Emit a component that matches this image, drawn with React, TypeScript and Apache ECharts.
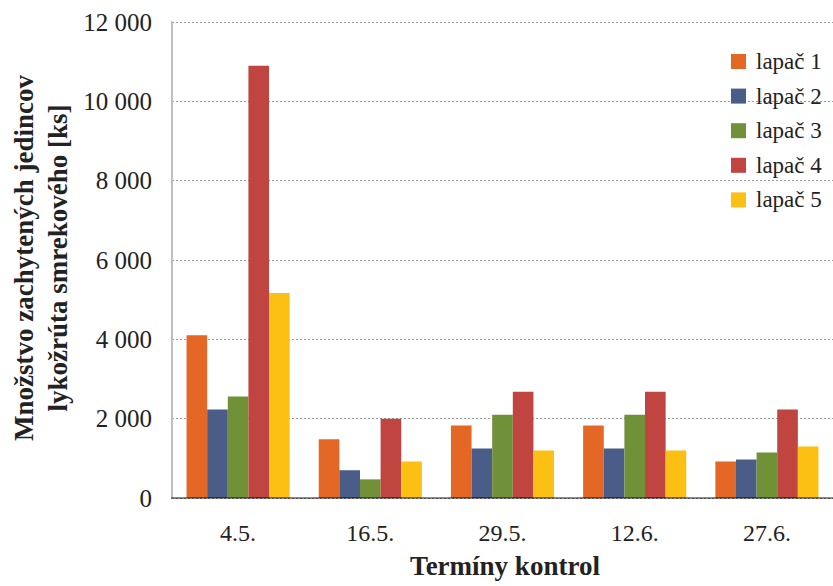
import React, { useEffect, useRef } from "react";
import * as echarts from "echarts";

const categories = ["4.5.", "16.5.", "29.5.", "12.6.", "27.6."];
const seriesNames = ["lapač 1", "lapač 2", "lapač 3", "lapač 4", "lapač 5"];
const lapac1 = [4100, 1480, 1830, 1830, 920];
const lapac2 = [2230, 700, 1250, 1250, 970];
const lapac3 = [2560, 470, 2100, 2100, 1150];
const lapac4 = [10900, 2000, 2680, 2680, 2230];
const lapac5 = [5170, 920, 1200, 1200, 1300];
const seriesValues = [lapac1, lapac2, lapac3, lapac4, lapac5];
const colors = ["#E46725", "#4A5D88", "#719139", "#C0443F", "#FCBF14"];
const yTitle = ["Množstvo zachytených jedincov", "lykožrúta smrekového [ks]"];
const xTitle = "Termíny kontrol";

const FONT = "'Liberation Serif', 'Times New Roman', serif";

const fmt = (v: number) => String(v).replace(/\B(?=(\d{3})+(?!\d))/g, " ");

export default function App() {
  const ref = useRef<HTMLDivElement>(null);
  useEffect(() => {
    if (!ref.current) return;
    const chart = echarts.init(ref.current, null, { renderer: "svg" });
    chart.setOption({
      animation: false,
      backgroundColor: "#ffffff",
      textStyle: { fontFamily: FONT },
      grid: { left: 172, right: 0, top: 22, bottom: 88 },
      legend: {
        orient: "vertical",
        left: 731,
        top: 50,
        padding: 0,
        itemWidth: 15,
        itemHeight: 15,
        itemGap: 11.6,
        icon: "rect",
        data: seriesNames,
        textStyle: { fontFamily: FONT, fontSize: 23, color: "#222", lineHeight: 22, padding: [0, 0, 0, 5] },
      },
      xAxis: {
        type: "category",
        data: categories,
        z: 3,
        axisLine: { show: true, lineStyle: { color: "rgba(0,0,0,0.47)", width: 2 } },
        axisTick: { show: false },
        axisLabel: { fontFamily: FONT, fontSize: 24, color: "#222", margin: 23 },
      },
      yAxis: {
        type: "value",
        min: 0,
        max: 12000,
        interval: 2000,
        axisLine: { show: true, lineStyle: { color: "#bfbfbf", width: 2 } },
        axisTick: { show: false },
        splitLine: { show: true, lineStyle: { color: "#999", type: [2, 2], width: 1 } },
        axisLabel: { fontFamily: FONT, fontSize: 25, color: "#222", margin: 20, formatter: (v: number) => fmt(v) },
      },
      series: seriesNames.map((name, i) => ({
        name,
        type: "bar",
        data: seriesValues[i],
        barGap: "0%",
        barCategoryGap: "22%",
        itemStyle: { color: colors[i] },
      })),
      graphic: [
        {
          type: "text",
          x: 41,
          y: 258,
          rotation: Math.PI / 2,
          style: {
            text: yTitle.join("\n"),
            font: `bold 27px ${FONT}`,
            fill: "#222",
            textAlign: "center",
            textVerticalAlign: "middle",
            lineHeight: 34,
          },
        },
        {
          type: "text",
          x: 505,
          y: 566,
          style: {
            text: xTitle,
            font: `bold 27px ${FONT}`,
            fill: "#222",
            textAlign: "center",
            textVerticalAlign: "middle",
          },
        },
      ],
    });
    return () => chart.dispose();
  }, []);
  return (
    <div
      ref={ref}
      style={{ position: "absolute", left: 0, top: 0, width: 833, height: 586 }}
    />
  );
}
